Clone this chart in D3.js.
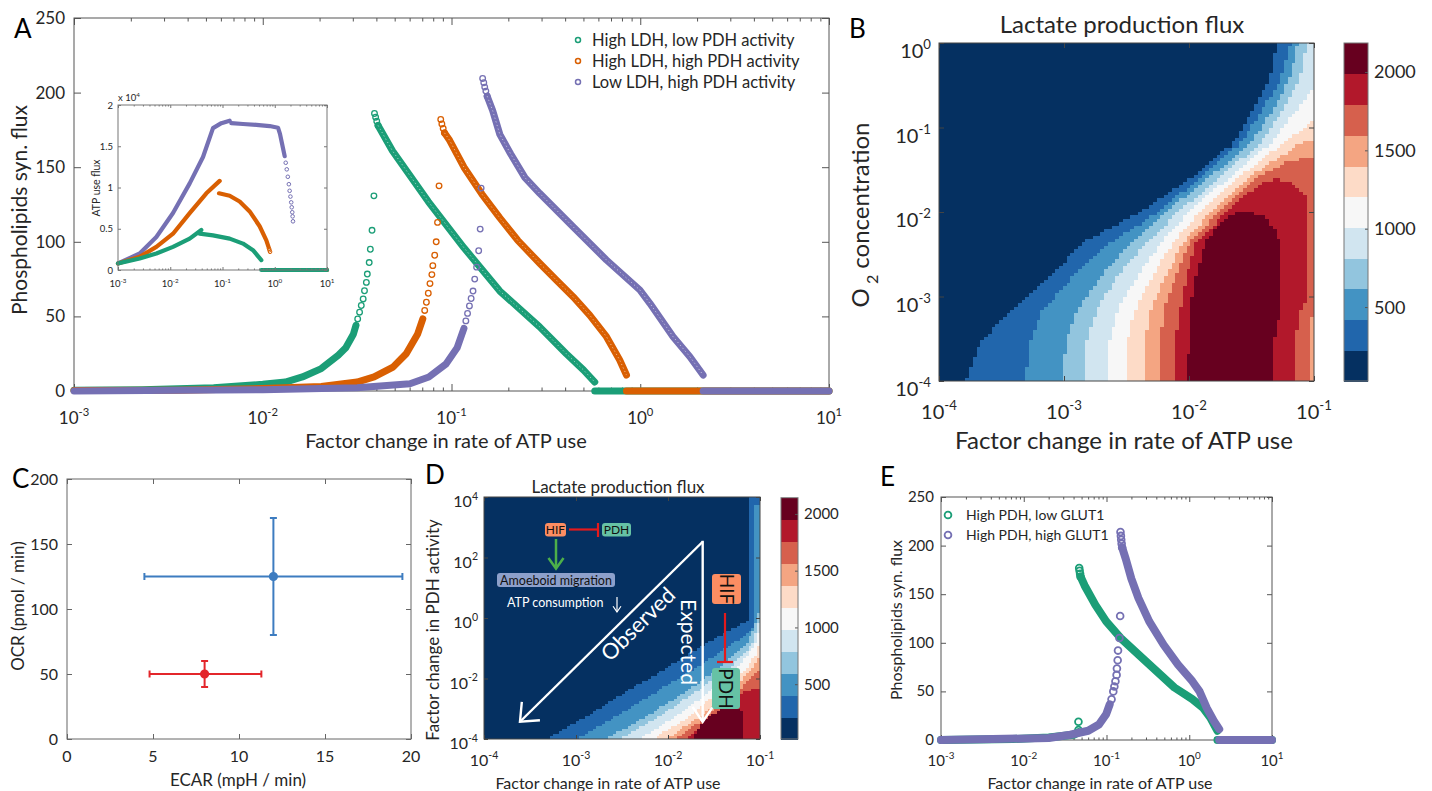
<!DOCTYPE html>
<html>
<head>
<meta charset="utf-8">
<script src="https://cdn.jsdelivr.net/npm/d3@7"></script>
<style>
  body { margin: 0; background: #fff; }
  text { font-family: Lato, "Open Sans", sans-serif; }
</style>
</head>
<body>
<script>
// ---------- data (x values are log10 of the factor) ----------

// panel A, main plot: phospholipid synthesis flux
var aGreenLines = [
  [[-3,0.5],[-2.64,0.9],[-2.26,2.2],[-2,4.5],[-1.88,6],[-1.79,9.4],[-1.69,15],[-1.6,24],[-1.56,29],[-1.52,38],[-1.506,44]],
  [[-1.389,178],[-1.313,161],[-1.123,127],[-0.934,96],[-0.744,67],[-0.533,43],[-0.392,25],[-0.3,14],[-0.241,6]],
  [[-0.241,0],[1,0]]
];
var aGreenDots = [[-1.497,48.3],[-1.487,52.8],[-1.478,57.3],[-1.468,61.7],[-1.461,67.2],[-1.451,72.8],[-1.446,78.4],
  [-1.436,86.1],[-1.43,95],[-1.421,107.7],[-1.411,130.8],[-1.408,186],[-1.402,183.5],[-1.396,180.8],[-1.389,178]];
var aOrangeLines = [
  [[-3,0.3],[-2.45,0.5],[-2,1.6],[-1.69,3.1],[-1.5,6],[-1.41,9.4],[-1.31,16],[-1.24,25],[-1.18,38],[-1.152,48.4]],
  [[-1.037,173],[-1.01,168],[-0.934,150],[-0.839,132],[-0.744,116],[-0.649,101],[-0.533,85.6],[-0.445,74.4],
   [-0.356,63.2],[-0.268,50.9],[-0.179,36.4],[-0.109,20.8],[-0.073,10.7]],
  [[-0.073,0],[1,0]]
];
var aOrangeDots = [[-1.142,54],[-1.133,59.5],[-1.123,65.5],[-1.114,72],[-1.104,78],[-1.099,84],[-1.089,91],
  [-1.081,100],[-1.074,113],[-1.066,137.5],[-1.057,182],[-1.051,179],[-1.044,176],[-1.037,173]];
var aPurpleLines = [
  [[-3,0],[-2,0.9],[-1.5,2.2],[-1.22,4.9],[-1.12,9.4],[-1.03,18],[-0.97,29],[-0.934,42]],
  [[-0.811,197.6],[-0.782,188],[-0.744,172],[-0.687,159],[-0.611,143],[-0.533,132.5],[-0.356,110.1],[-0.179,87.8],
   [-0.002,67.7],[0.051,58.8],[0.174,36.4],[0.263,23],[0.333,10.7]],
  [[0.333,0],[1,0]]
];
var aPurpleDots = [[-0.924,47],[-0.915,52],[-0.905,57],[-0.896,62],[-0.886,67],[-0.877,75],[-0.867,83],[-0.856,94],
  [-0.848,108.5],[-0.843,136],[-0.835,209.5],[-0.829,206.6],[-0.824,203.7],[-0.818,201],[-0.811,197.6]];
var aNames = ["High LDH, low PDH activity", "High LDH, high PDH activity", "Low LDH, high PDH activity"];

// panel A inset: ATP use flux (x 10^4)
var inGreenLines = [
  [[-3,0.08],[-2.585,0.14],[-2.266,0.2],[-1.947,0.28],[-1.628,0.38],[-1.405,0.485]],
  [[-1.437,0.44],[-1.182,0.42],[-0.863,0.38],[-0.608,0.32],[-0.416,0.24],[-0.257,0.12]],
  [[-0.257,0],[1,0]]
];
var inOrangeLines = [
  [[-3,0.08],[-2.585,0.16],[-2.266,0.28],[-1.947,0.44],[-1.628,0.69],[-1.309,0.93],[-1.054,1.08]],
  [[-1.067,0.93],[-0.863,0.9],[-0.672,0.83],[-0.48,0.71],[-0.289,0.53],[-0.161,0.36],[-0.12,0.28]],
  [[-0.073,0],[1,0]]
];
var inOrangeDots = [[-0.11,0.26],[-0.1,0.24],[-0.09,0.22]];
var inPurpleLines = [
  [[-3,0.08],[-2.585,0.2],[-2.266,0.4],[-1.947,0.69],[-1.628,1.05],[-1.373,1.37],[-1.182,1.72],[-1.022,1.78],[-0.863,1.81]],
  [[-0.831,1.78],[-0.608,1.77],[-0.352,1.76],[-0.097,1.745],[0.062,1.725],[0.1,1.65],[0.15,1.5],[0.19,1.38]],
  [[0.349,0],[1,0]]
];
var inPurpleDots = [[0.21,1.3],[0.23,1.22],[0.25,1.13],[0.27,1.04],[0.285,0.96],[0.3,0.89],[0.315,0.82],
  [0.325,0.76],[0.335,0.7],[0.342,0.65],[0.349,0.59]];

// panels B and D: superlevel regions of lactate production flux, level 1..10, [log10 x, log10 y]
var bBands = [
  [[-3.79,-4],[-3.67,-3.55],[-3.43,-3.16],[-3.11,-2.77],[-2.86,-2.37],[-2.37,-1.98],[-1.97,-1.58],[-1.65,-1.19],[-1.49,-0.79],[-1.35,-0.4],[-1.3,0],[-1,0],[-1,-4]],
  [[-3.31,-4],[-3.27,-3.55],[-3.17,-3.16],[-2.93,-2.77],[-2.63,-2.37],[-2.23,-1.98],[-1.9,-1.58],[-1.59,-1.19],[-1.41,-0.79],[-1.26,-0.4],[-1.19,0],[-1,0],[-1,-4]],
  [[-3.01,-4],[-2.99,-3.55],[-2.9,-3.16],[-2.71,-2.77],[-2.47,-2.37],[-2.17,-1.98],[-1.83,-1.58],[-1.51,-1.19],[-1.33,-0.79],[-1.19,-0.4],[-1.13,0],[-1,0],[-1,-4]],
  [[-2.83,-4],[-2.82,-3.55],[-2.74,-3.16],[-2.58,-2.77],[-2.35,-2.37],[-2.07,-1.98],[-1.75,-1.58],[-1.43,-1.19],[-1.25,-0.79],[-1.11,-0.4],[-1.06,0],[-1,0],[-1,-4]],
  [[-2.645,-4],[-2.64,-3.55],[-2.57,-3.16],[-2.42,-2.77],[-2.23,-2.37],[-1.99,-1.98],[-1.67,-1.58],[-1.35,-1.19],[-1.14,-0.79],[-1,-0.52],[-1,-4]],
  [[-2.5,-4],[-2.5,-3.55],[-2.43,-3.16],[-2.3,-2.77],[-2.13,-2.37],[-1.9,-1.98],[-1.59,-1.58],[-1.25,-1.19],[-1,-0.91],[-1,-4]],
  [[-2.35,-4],[-2.35,-3.55],[-2.31,-3.16],[-2.19,-2.77],[-2.05,-2.37],[-1.82,-1.98],[-1.51,-1.58],[-1.11,-1.19],[-1,-1.15],[-1,-4]],
  [[-2.23,-4],[-2.23,-3.55],[-2.2,-3.16],[-2.11,-2.77],[-2,-2.37],[-1.75,-1.98],[-1.44,-1.58],[-1.2,-1.4],[-1,-1.345],[-1,-3.24],[-1.03,-3.24],[-1.03,-4]],
  [[-2.125,-4],[-2.11,-3.55],[-2.07,-3.16],[-2.02,-2.77],[-1.95,-2.37],[-1.685,-1.98],[-1.43,-1.66],[-1.3,-1.61],[-1.165,-1.66],[-1.06,-1.82],[-1.045,-1.98],[-1.045,-3],[-1.11,-3.16],[-1.15,-3.55],[-1.15,-4]],
  [[-2.02,-4],[-2,-3.55],[-1.99,-3.16],[-1.95,-2.77],[-1.87,-2.37],[-1.75,-2.13],[-1.645,-2.02],[-1.51,-2.01],[-1.405,-2.05],[-1.3,-2.21],[-1.27,-2.45],[-1.27,-3.16],[-1.325,-3.55],[-1.325,-4]]
];
var dBands = [
  [[-3.32,-4],[-2.88,-3.25],[-2.45,-2.42],[-2.01,-1.65],[-1.58,-0.83],[-1.29,-0.33],[-1.13,-0.08],[-1.13,4],[-1,4],[-1,-4]],
  [[-2.99,-4],[-2.56,-3.25],[-2.12,-2.42],[-1.69,-1.65],[-1.29,-0.83],[-1.11,-0.44],[-1.06,-0.22],[-1.06,3.75],[-1,3.75],[-1,-4]],
  [[-2.67,-4],[-2.23,-3.25],[-1.8,-2.42],[-1.44,-1.65],[-1.145,-0.83],[-1.054,-0.22],[-1,0.275],[-1,-4]],
  [[-2.52,-4],[-2.09,-3.25],[-1.69,-2.42],[-1.33,-1.65],[-1.07,-0.83],[-1.03,-0.33],[-1,0.055],[-1,-4]],
  [[-2.3,-4],[-1.91,-3.25],[-1.54,-2.42],[-1.25,-1.65],[-1.05,-0.88],[-1,-0.33],[-1,-4]],
  [[-2.16,-4],[-1.76,-3.25],[-1.435,-2.42],[-1.145,-1.65],[-1.036,-1.16],[-1,-0.77],[-1,-4]],
  [[-2.01,-4],[-1.65,-3.25],[-1.33,-2.42],[-1.07,-1.65],[-1,-1.21],[-1,-4]],
  [[-1.91,-4],[-1.58,-3.25],[-1.25,-2.42],[-1.07,-1.93],[-1,-1.65],[-1,-4]],
  [[-1.8,-4],[-1.51,-3.25],[-1.18,-2.42],[-1,-2.31],[-1,-4]],
  [[-1.74,-4],[-1.62,-3.42],[-1.435,-3.03],[-1.27,-2.87],[-1.2,-3.09],[-1.2,-4]]
];
var bRange = [28, 2185];
var dRange = [17, 2143];
var cbTicks = [500, 1000, 1500, 2000];

// panel C: OCR vs ECAR, mean with error bars
var cX = [12, 8];
var cY = [125, 50];
var cXErr = [[4.5, 19.5], [4.8, 11.3]];
var cYErr = [[80, 170], [40, 60]];

// panel E
var eGreenLines = [
  [[-3,0],[-2.132,1],[-1.698,2.7],[-1.395,5.4],[-1.34,8]],
  [[-1.313,168],[-1.265,159],[-1.135,139],[-1.004,122],[-0.83,105],[-0.614,88],[-0.397,71],[-0.18,54],
   [0.037,42],[0.167,33],[0.254,23],[0.341,9.5]],
  [[0.341,0],[1,0]]
];
var eGreenDots = [[-1.339,10.2],[-1.339,18.7],[-1.33,177],[-1.325,174],[-1.319,171],[-1.313,168]];
var ePurpleLines = [
  [[-3,0],[-1.698,2],[-1.438,5.4],[-1.221,9.5],[-1.091,16],[-1.004,26.5],[-0.961,36.7]],
  [[-0.811,198],[-0.766,186],[-0.7,166],[-0.614,146],[-0.484,122],[-0.31,98],[-0.136,77.6],[0.037,60.5],
   [0.124,50],[0.211,33],[0.297,19.7],[0.362,11.2]],
  [[0.362,0],[1,0]]
];
var ePurpleDots = [[-0.939,41.8],[-0.918,50],[-0.905,55],[-0.892,60.5],[-0.878,67],[-0.874,73.5],[-0.865,82],
  [-0.861,92],[-0.844,105],[-0.835,127.6],[-0.831,214],[-0.826,210],[-0.822,206],[-0.817,202],[-0.811,198]];
var eNames = ["High PDH, low GLUT1", "High PDH, high GLUT1"];

var fluxTicks = [0, 50, 100, 150, 200, 250];
var insetTicks = [0, 0.5, 1, 1.5, 2];
var ocrTicks = [0, 50, 100, 150, 200];
var ecarTicks = [0, 5, 10, 15, 20];

// ---------- styles ----------
var GREEN = "#1b9e77", ORANGE = "#d95f02", PURPLE = "#7570b3";
var levelColors = ["#053061","#2166ac","#4393c3","#92c5de","#d1e5f0","#f7f7f7","#fddbc7","#f4a582","#d6604d","#b2182b","#67001f"];
var AXC = "#555";
var INK = "#262626";

var svg = d3.select("body").append("svg").attr("width", 1432).attr("height", 791).attr("fill", INK);
var defs = svg.append("defs");

function p10(e) { return Math.pow(10, e); }
function decades(a, b) { return d3.range(a, b + 1).map(p10); }
function minors(scale) {
  return scale.ticks().filter(function (v) { return Math.abs(Math.log10(v) - Math.round(Math.log10(v))) > 1e-6; });
}

// box with inward ticks on all four sides (MATLAB style)
function frame(g, x, y, o) {
  var x0 = x.range()[0], x1 = x.range()[1], yb = y.range()[0], yt = y.range()[1];
  var col = o.color || AXC;
  function tk(axis, vals, len, tx, ty) {
    if (!vals || !vals.length) return;
    var a = g.append("g").attr("transform", "translate(" + tx + "," + ty + ")")
      .call(axis.tickValues(vals).tickSizeInner(-len).tickSizeOuter(0).tickFormat(""));
    a.select(".domain").remove();
    a.selectAll(".tick line").attr("stroke", col);
  }
  tk(d3.axisBottom(x), o.xt, o.len, 0, yb);
  tk(d3.axisTop(x), o.xt, o.len, 0, yt);
  tk(d3.axisBottom(x), o.xm, o.len * 0.5, 0, yb);
  tk(d3.axisTop(x), o.xm, o.len * 0.5, 0, yt);
  tk(d3.axisLeft(y), o.yt, o.len, x0, 0);
  tk(d3.axisRight(y), o.yt, o.len, x1, 0);
  g.append("rect").attr("x", x0).attr("y", yt).attr("width", x1 - x0).attr("height", yb - yt)
    .attr("fill", "none").attr("stroke", col);
}

function supText(g, base, exp, x, y, size, anchor) {
  var t = g.append("text").attr("x", x).attr("y", y).attr("font-size", size).attr("text-anchor", anchor);
  t.append("tspan").text(base);
  t.append("tspan").attr("dy", -0.45 * size).attr("font-size", 0.66 * size).text(exp);
  return t;
}

function logXLabels(g, x, exps, y, size) {
  exps.forEach(function (e) { supText(g, "10", String(e), x(p10(e)), y, size, "middle"); });
}
function logYLabels(g, y, exps, x, dy, size) {
  exps.forEach(function (e) { supText(g, "10", String(e), x, y(p10(e)) + dy, size, "end"); });
}
function linXLabels(g, x, vals, y, size) {
  vals.forEach(function (v) {
    g.append("text").attr("x", x(v)).attr("y", y).attr("font-size", size).attr("text-anchor", "middle").text(v);
  });
}
function linYLabels(g, y, vals, x, dy, size) {
  vals.forEach(function (v) {
    g.append("text").attr("x", x).attr("y", y(v) + dy).attr("font-size", size).attr("text-anchor", "end").text(v);
  });
}

// dense runs of open markers are drawn as a thick band, sparse ones as rings
function series(g, x, y, lines, dots, color, lw, r, sw, speck) {
  var ln = d3.line().x(function (d) { return x(p10(d[0])); }).y(function (d) { return y(d[1]); });
  lines.forEach(function (seg, i) {
    g.append("path").attr("d", ln(seg)).attr("fill", "none").attr("stroke", color)
      .attr("stroke-width", lw).attr("stroke-linecap", "round").attr("stroke-linejoin", "round");
    if (speck && i === 1) {
      g.append("path").attr("d", ln(seg)).attr("fill", "none").attr("stroke", "#fff")
        .attr("stroke-width", 1).attr("stroke-dasharray", "1.2,2.6").attr("opacity", 0.55);
    }
  });
  g.append("g").selectAll("circle").data(dots).enter().append("circle")
    .attr("cx", function (d) { return x(p10(d[0])); })
    .attr("cy", function (d) { return y(d[1]); })
    .attr("r", r).attr("fill", "none").attr("stroke", color).attr("stroke-width", sw);
}

// rasterise the level regions on a coarse grid, like the original image plot
function heatmap(g, x, y, bands, nx, ny, id) {
  var x0 = x.range()[0], x1 = x.range()[1], yb = y.range()[0], yt = y.range()[1];
  defs.append("clipPath").attr("id", id).append("rect")
    .attr("x", x0).attr("y", yt).attr("width", x1 - x0).attr("height", yb - yt);
  var polys = bands.map(function (b) {
    return b.map(function (d) { return [x(p10(d[0])), y(p10(d[1]))]; });
  });
  var cw = (x1 - x0) / nx, ch = (yb - yt) / ny, runs = [];
  for (var j = 0; j < ny; j++) {
    var cy = yt + (j + 0.5) * ch, start = 0, prev = -1;
    for (var i = 0; i <= nx; i++) {
      var lvl = -2;
      if (i < nx) {
        var cx = x0 + (i + 0.5) * cw;
        lvl = 0;
        for (var k = 0; k < polys.length; k++) if (d3.polygonContains(polys[k], [cx, cy])) lvl = k + 1;
      }
      if (lvl !== prev) {
        if (prev > 0) runs.push({ x: x0 + start * cw, y: yt + j * ch, w: (i - start) * cw, lvl: prev });
        start = i; prev = lvl;
      }
    }
  }
  var hg = g.append("g").attr("clip-path", "url(#" + id + ")").attr("shape-rendering", "crispEdges");
  hg.append("rect").attr("x", x0).attr("y", yt).attr("width", x1 - x0).attr("height", yb - yt)
    .attr("fill", levelColors[0]);
  hg.selectAll("rect.cell").data(runs).enter().append("rect").attr("class", "cell")
    .attr("x", function (d) { return d.x; }).attr("y", function (d) { return d.y; })
    .attr("width", function (d) { return d.w + 0.6; }).attr("height", ch + 0.6)
    .attr("fill", function (d) { return levelColors[d.lvl]; });
}

function colorbar(g, x0, w, c, size) {
  var lo = c.domain()[0], hi = c.domain()[1], n = levelColors.length, step = (hi - lo) / n;
  g.append("g").attr("shape-rendering", "crispEdges").selectAll("rect").data(levelColors).enter().append("rect")
    .attr("x", x0).attr("width", w)
    .attr("y", function (d, i) { return c(lo + (i + 1) * step); })
    .attr("height", function (d, i) { return c(lo + i * step) - c(lo + (i + 1) * step) + 0.6; })
    .attr("fill", function (d) { return d; });
  var a = g.append("g").attr("transform", "translate(" + (x0 + w) + ",0)")
    .call(d3.axisRight(c).tickValues(cbTicks).tickSizeInner(-3).tickSizeOuter(0).tickFormat(""));
  a.select(".domain").remove();
  a.selectAll(".tick line").attr("stroke", AXC);
  g.append("rect").attr("x", x0).attr("y", c.range()[1]).attr("width", w).attr("height", c.range()[0] - c.range()[1])
    .attr("fill", "none").attr("stroke", "#777");
  cbTicks.forEach(function (v) {
    g.append("text").attr("x", x0 + w + 6).attr("y", c(v) + size * 0.36).attr("font-size", size).text(v);
  });
}

function panelLetter(t, x, y) {
  svg.append("text").attr("x", x).attr("y", y).attr("font-size", 26).attr("fill", "#000").text(t);
}

// ---------- panel A ----------
var gA = svg.append("g");
var xA = d3.scaleLog().domain([1e-3, 10]).range([74, 829]);
var yA = d3.scaleLinear().domain([0, 250]).range([391, 18]);
frame(gA, xA, yA, { xt: decades(-3, 1), xm: minors(xA), yt: fluxTicks, len: 7 });
series(gA, xA, yA, aGreenLines, aGreenDots, GREEN, 7, 2.8, 1.3, true);
series(gA, xA, yA, aOrangeLines, aOrangeDots, ORANGE, 7, 2.8, 1.3, true);
series(gA, xA, yA, aPurpleLines, aPurpleDots, PURPLE, 7, 2.8, 1.3, true);
linYLabels(gA, yA, fluxTicks, 65, 6, 17);
logXLabels(gA, xA, [-3, -2, -1, 0, 1], 424, 17);
gA.append("text").attr("x", 446).attr("y", 448).attr("font-size", 20).attr("text-anchor", "middle")
  .text("Factor change in rate of ATP use");
gA.append("text").attr("transform", "translate(27,210) rotate(-90)").attr("font-size", 21)
  .attr("text-anchor", "middle").text("Phospholipids syn. flux");
[GREEN, ORANGE, PURPLE].forEach(function (c, i) {
  gA.append("circle").attr("cx", 578).attr("cy", 40 + i * 21).attr("r", 2.5)
    .attr("fill", "none").attr("stroke", c).attr("stroke-width", 1.5);
  gA.append("text").attr("x", 592).attr("y", 45.5 + i * 21).attr("font-size", 16.5).text(aNames[i]);
});

// inset
var gI = svg.append("g");
var xI = d3.scaleLog().domain([1e-3, 10]).range([118, 327]);
var yI = d3.scaleLinear().domain([0, 2]).range([270, 105]);
gI.append("rect").attr("x", 118).attr("y", 105).attr("width", 209).attr("height", 165).attr("fill", "#fff");
series(gI, xI, yI, inPurpleLines, inPurpleDots, PURPLE, 4.2, 1.8, 1, false);
series(gI, xI, yI, inOrangeLines, inOrangeDots, ORANGE, 4.2, 1.8, 1, false);
series(gI, xI, yI, inGreenLines, [], GREEN, 4.2, 1.8, 1, false);
frame(gI, xI, yI, { xt: decades(-3, 1), xm: minors(xI), yt: insetTicks, len: 3, color: "#777" });
linYLabels(gI, yI, insetTicks, 113, 3.5, 9.5);
logXLabels(gI, xI, [-3, -2, -1, 0, 1], 287, 9.5);
supText(gI, "x 10", "4", 118, 101, 9.5, "start");
gI.append("text").attr("transform", "translate(100,188) rotate(-90)").attr("font-size", 10.5)
  .attr("text-anchor", "middle").text("ATP use flux");

// ---------- panel B ----------
var gB = svg.append("g");
var xB = d3.scaleLog().domain([1e-4, 1e-1]).range([939, 1314]);
var yB = d3.scaleLog().domain([1e-4, 1]).range([381, 43]);
heatmap(gB, xB, yB, bBands, 100, 100, "clipB");
frame(gB, xB, yB, { xt: decades(-4, -1), xm: [], yt: decades(-4, 0), len: 5, color: "#444" });
logXLabels(gB, xB, [-4, -3, -2, -1], 419, 20);
logYLabels(gB, yB, [-4, -3, -2, -1, 0], 931, 15, 20);
gB.append("text").attr("x", 1122).attr("y", 33).attr("font-size", 24).attr("text-anchor", "middle")
  .text("Lactate production flux");
gB.append("text").attr("x", 1124).attr("y", 449).attr("font-size", 24).attr("text-anchor", "middle")
  .text("Factor change in rate of ATP use");
var oLab = gB.append("text").attr("transform", "translate(869,215) rotate(-90)").attr("font-size", 24)
  .attr("text-anchor", "middle");
oLab.append("tspan").text("O");
oLab.append("tspan").attr("dy", 9).attr("font-size", 16).text(" 2");
oLab.append("tspan").attr("dy", -9).text(" concentration");
colorbar(gB, 1344, 24, d3.scaleLinear().domain(bRange).range([381, 43]), 18);

// ---------- panel C ----------
var gC = svg.append("g");
var xC = d3.scaleLinear().domain([0, 20]).range([67, 411]);
var yC = d3.scaleLinear().domain([0, 200]).range([739, 479]);
frame(gC, xC, yC, { xt: ecarTicks, xm: [], yt: ocrTicks, len: 5, color: "#666" });
var cColors = ["#3d7cc0", "#e3262b"];
cX.forEach(function (v, i) {
  var col = cColors[i];
  var px = xC(v), py = yC(cY[i]);
  var xl = xC(cXErr[i][0]), xr = xC(cXErr[i][1]), yl = yC(cYErr[i][0]), yh = yC(cYErr[i][1]);
  var eg = gC.append("g").attr("stroke", col).attr("stroke-width", 2).attr("fill", "none");
  eg.append("line").attr("x1", xl).attr("x2", xr).attr("y1", py).attr("y2", py);
  eg.append("line").attr("x1", px).attr("x2", px).attr("y1", yl).attr("y2", yh);
  eg.append("line").attr("x1", xl).attr("x2", xl).attr("y1", py - 3.5).attr("y2", py + 3.5);
  eg.append("line").attr("x1", xr).attr("x2", xr).attr("y1", py - 3.5).attr("y2", py + 3.5);
  eg.append("line").attr("x1", px - 3.5).attr("x2", px + 3.5).attr("y1", yl).attr("y2", yl);
  eg.append("line").attr("x1", px - 3.5).attr("x2", px + 3.5).attr("y1", yh).attr("y2", yh);
  eg.append("circle").attr("cx", px).attr("cy", py).attr("r", 3.6).attr("fill", col);
});
linYLabels(gC, yC, ocrTicks, 58, 6, 16);
linXLabels(gC, xC, ecarTicks, 762, 16);
gC.append("text").attr("x", 238).attr("y", 786).attr("font-size", 17).attr("text-anchor", "middle")
  .text("ECAR (mpH / min)");
gC.append("text").attr("transform", "translate(24,606) rotate(-90)").attr("font-size", 17)
  .attr("text-anchor", "middle").text("OCR (pmol / min)");

// ---------- panel D ----------
var gD = svg.append("g");
var xD = d3.scaleLog().domain([1e-4, 1e-1]).range([484, 760]);
var yD = d3.scaleLog().domain([1e-4, 1e4]).range([739, 497]);
heatmap(gD, xD, yD, dBands, 96, 96, "clipD");
frame(gD, xD, yD, { xt: decades(-4, -1), xm: [], yt: [1e-4, 1e-2, 1, 1e2, 1e4], len: 4, color: "#444" });
logXLabels(gD, xD, [-4, -3, -2, -1], 766, 16);
logYLabels(gD, yD, [-4, -2, 0, 2, 4], 478, 10, 16);
gD.append("text").attr("x", 618).attr("y", 493).attr("font-size", 17).attr("text-anchor", "middle")
  .text("Lactate production flux");
gD.append("text").attr("x", 608).attr("y", 789).attr("font-size", 16).attr("text-anchor", "middle")
  .text("Factor change in rate of ATP use");
gD.append("text").attr("transform", "translate(439,630) rotate(-90)").attr("font-size", 17)
  .attr("text-anchor", "middle").text("Factor change in PDH activity");
colorbar(gD, 781, 17, d3.scaleLinear().domain(dRange).range([739, 497.7]), 15);

// annotations on D
var HIFC = "#fc8d62", PDHC = "#66c2a5", AMC = "#8da0cb", REDC = "#e41a1c", ARRC = "#4daf4a";
function box(g, x, y, w, h, fill, label, size, rot) {
  g.append("rect").attr("x", x).attr("y", y).attr("width", w).attr("height", h).attr("rx", 3).attr("fill", fill);
  var cx = x + w / 2, cy = y + h / 2;
  g.append("text").attr("transform", "translate(" + cx + "," + cy + ") rotate(" + rot + ")")
    .attr("dy", "0.36em").attr("text-anchor", "middle").attr("font-size", size).attr("fill", "#111").text(label);
}
function chevron(g, tx, ty, ang, len, spread, col, sw) {
  var pts = [-spread, spread].map(function (s) {
    var a = ang + s;
    return [tx + len * Math.cos(a), ty + len * Math.sin(a)];
  });
  g.append("path").attr("d", "M" + pts[0] + "L" + tx + "," + ty + "L" + pts[1])
    .attr("fill", "none").attr("stroke", col).attr("stroke-width", sw).attr("stroke-linejoin", "miter");
}
var gN = svg.append("g");
box(gN, 545, 523, 21, 13.5, HIFC, "HIF", 12, 0);
box(gN, 602, 523, 29, 13.5, PDHC, "PDH", 12, 0);
gN.append("line").attr("x1", 569).attr("x2", 598).attr("y1", 529.5).attr("y2", 529.5).attr("stroke", REDC).attr("stroke-width", 2.2);
gN.append("line").attr("x1", 598).attr("x2", 598).attr("y1", 523).attr("y2", 537).attr("stroke", REDC).attr("stroke-width", 2.2);
gN.append("line").attr("x1", 556).attr("x2", 556).attr("y1", 539).attr("y2", 568).attr("stroke", ARRC).attr("stroke-width", 2.5);
chevron(gN, 556, 568.5, -Math.PI / 2, 13, 0.62, ARRC, 2.5);
box(gN, 497, 573, 118, 14, AMC, "Amoeboid migration", 12.5, 0);
gN.append("text").attr("x", 507).attr("y", 607).attr("font-size", 12.5).attr("fill", "#fff").text("ATP consumption");
gN.append("line").attr("x1", 617).attr("x2", 617).attr("y1", 597).attr("y2", 612).attr("stroke", "#fff").attr("stroke-width", 1.2);
chevron(gN, 617, 612, -Math.PI / 2, 7, 0.6, "#fff", 1.2);
// observed / expected arrows, anchored in data space
var apex = [xD(p10(-1.623)), yD(p10(2.52))];
var tipObs = [xD(p10(-3.609)), yD(p10(-3.43))];
var tipExp = [apex[0], yD(p10(-3.43))];
gN.append("line").attr("x1", apex[0]).attr("y1", apex[1]).attr("x2", tipObs[0]).attr("y2", tipObs[1])
  .attr("stroke", "#fff").attr("stroke-width", 2.4);
gN.append("line").attr("x1", apex[0]).attr("y1", apex[1] - 1).attr("x2", tipExp[0]).attr("y2", tipExp[1])
  .attr("stroke", "#fff").attr("stroke-width", 2.4);
var angObs = Math.atan2(apex[1] - tipObs[1], apex[0] - tipObs[0]);
chevron(gN, tipObs[0], tipObs[1], angObs, 20, 0.7, "#fff", 2.4);
chevron(gN, tipExp[0], tipExp[1], -Math.PI / 2, 18, 0.6, "#fff", 2.4);
gN.append("text").attr("transform", "translate(638,624) rotate(-44.6)").attr("text-anchor", "middle")
  .attr("dy", "0.35em").attr("font-size", 22).attr("fill", "#fff").text("Observed");
gN.append("text").attr("transform", "translate(688,642) rotate(90)").attr("text-anchor", "middle")
  .attr("dy", "0.35em").attr("font-size", 21).attr("fill", "#fff").text("Expected");
box(gN, 712, 574, 29, 30, HIFC, "HIF", 19, 90);
box(gN, 712, 668, 28, 41, PDHC, "PDH", 19, 90);
gN.append("line").attr("x1", 725).attr("x2", 725).attr("y1", 613).attr("y2", 662).attr("stroke", REDC).attr("stroke-width", 2.2);
gN.append("line").attr("x1", 717).attr("x2", 733).attr("y1", 662).attr("y2", 662).attr("stroke", REDC).attr("stroke-width", 2.2);

// ---------- panel E ----------
var gE = svg.append("g");
var xE = d3.scaleLog().domain([1e-3, 10]).range([941, 1272]);
var yE = d3.scaleLinear().domain([0, 250]).range([740, 497]);
frame(gE, xE, yE, { xt: decades(-3, 1), xm: minors(xE), yt: fluxTicks, len: 5 });
series(gE, xE, yE, eGreenLines, eGreenDots, GREEN, 8, 3.4, 1.8, false);
series(gE, xE, yE, ePurpleLines, ePurpleDots, PURPLE, 8, 3.4, 1.8, false);
linYLabels(gE, yE, fluxTicks, 934, 5, 15);
logXLabels(gE, xE, [-3, -2, -1, 0, 1], 766, 15);
gE.append("text").attr("x", 1100).attr("y", 789).attr("font-size", 16).attr("text-anchor", "middle")
  .text("Factor change in rate of ATP use");
gE.append("text").attr("transform", "translate(902,620) rotate(-90)").attr("font-size", 16)
  .attr("text-anchor", "middle").text("Phospholipids syn. flux");
[GREEN, PURPLE].forEach(function (c, i) {
  gE.append("circle").attr("cx", 948).attr("cy", 515 + i * 20).attr("r", 3.4)
    .attr("fill", "none").attr("stroke", c).attr("stroke-width", 1.8);
  gE.append("text").attr("x", 966).attr("y", 520 + i * 20).attr("font-size", 14).text(eNames[i]);
});

panelLetter("A", 14, 38);
panelLetter("B", 849, 38);
panelLetter("C", 12, 488);
panelLetter("D", 425, 484);
panelLetter("E", 880, 486);
</script>
</body>
</html>
